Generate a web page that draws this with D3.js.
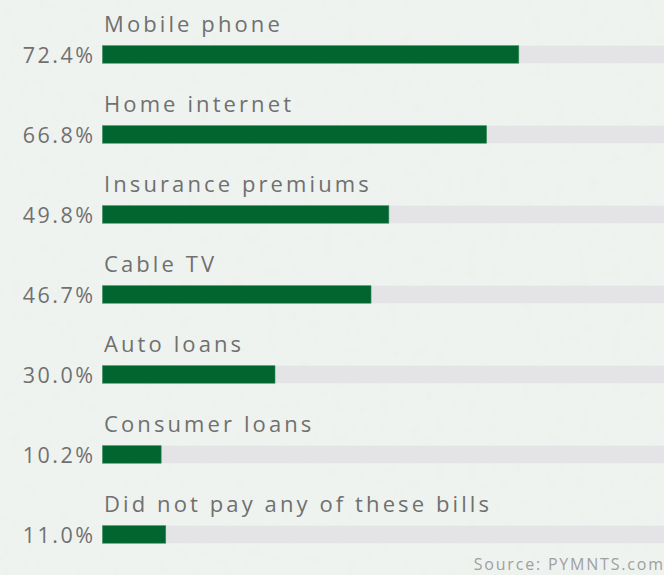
<!DOCTYPE html>
<html>
<head>
<meta charset="utf-8">
<script src="https://cdn.jsdelivr.net/npm/d3@7/dist/d3.min.js"></script>
<style>
  html, body { margin: 0; padding: 0; background: #eef2ee; }
  svg { display: block; }
  text { font-family: "Open Sans", "DejaVu Sans", sans-serif; }
</style>
</head>
<body>
<svg id="chart" width="664" height="575"></svg>
<script>
// Share of consumers paying each bill type
const categories = [
  "Mobile phone",
  "Home internet",
  "Insurance premiums",
  "Cable TV",
  "Auto loans",
  "Consumer loans",
  "Did not pay any of these bills"
];
const values = [72.4, 66.8, 49.8, 46.7, 30.0, 10.2, 11.0];
const valueLabels = ["72.4%", "66.8%", "49.8%", "46.7%", "30.0%", "10.2%", "11.0%"];
const sourceNote = "Source: PYMNTS.com";

const W = 664, H = 575;
const svg = d3.select("#chart");

// paper-like mottled background
const defs = svg.append("defs");
const f = defs.append("filter").attr("id", "paper")
  .attr("x", 0).attr("y", 0).attr("width", "100%").attr("height", "100%");
f.append("feTurbulence").attr("type", "fractalNoise")
  .attr("baseFrequency", 0.09).attr("numOctaves", 3).attr("seed", 7).attr("result", "noise");
f.append("feColorMatrix").attr("in", "noise").attr("type", "matrix")
  .attr("values", "0 0 0 0 0.80  0 0 0 0 0.85  0 0 0 0 0.80  0 0 0 -1.1 0.62");
svg.append("rect").attr("width", W).attr("height", H).attr("fill", "#eff3ef");
svg.append("rect").attr("width", W).attr("height", H).attr("filter", "url(#paper)").attr("opacity", 0.6);

const x = d3.scaleLinear().domain([0, 100]).range([102.5, 102.5 + 575]);
const y = d3.scaleBand().domain(categories).range([45.7, 45.7 + 80 * categories.length]).paddingInner(0);
const barH = 17.5;

const rows = svg.append("g").selectAll("g")
  .data(categories.map((c, i) => ({ c, v: values[i], lab: valueLabels[i] })))
  .join("g")
  .attr("transform", d => `translate(0,${y(d.c)})`);

// full-width track
rows.append("rect")
  .attr("x", x(0)).attr("y", 0)
  .attr("width", x(100) - x(0)).attr("height", barH)
  .attr("fill", "#e4e4e6");

// value bar
rows.append("rect")
  .attr("x", x(0)).attr("y", 0)
  .attr("width", d => x(d.v) - x(0)).attr("height", barH)
  .attr("fill", "#00652f")
  .attr("stroke", "#3f8a5c").attr("stroke-width", 0.6);

// category label above bar
rows.append("text")
  .attr("x", 104).attr("y", -14)
  .attr("font-size", 22).attr("letter-spacing", 3.1)
  .attr("fill", "#707070")
  .text(d => d.c);

// value label left of bar
rows.append("text")
  .attr("x", 93 + 2.5).attr("y", barH)
  .attr("text-anchor", "end")
  .attr("font-size", 21.5).attr("letter-spacing", 2.5)
  .attr("fill", "#707070")
  .text(d => d.lab);

svg.append("text")
  .attr("x", 663 + 1.8).attr("y", 570)
  .attr("text-anchor", "end")
  .attr("font-size", 16).attr("letter-spacing", 1.8)
  .attr("fill", "#a0a0a0")
  .text(sourceNote);
</script>
</body>
</html>
